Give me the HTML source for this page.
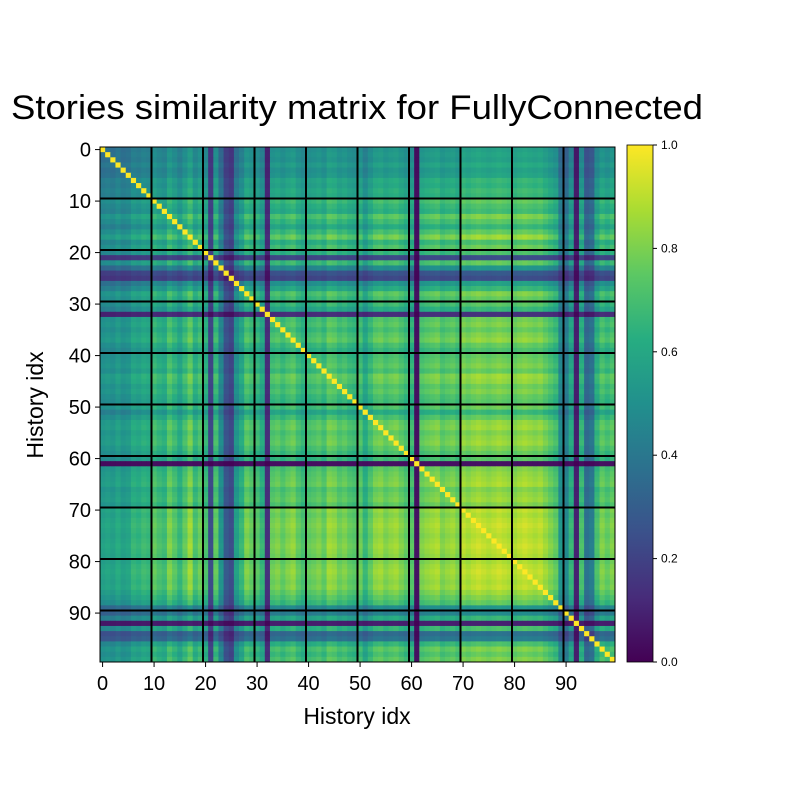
<!DOCTYPE html>
<html><head><meta charset="utf-8"><style>
body{margin:0;background:#fff;font-family:"Liberation Sans",sans-serif}
</style></head><body>
<svg width="800" height="800" xmlns="http://www.w3.org/2000/svg" font-family="Liberation Sans, sans-serif">
<rect width="800" height="800" fill="#fff"/>
<text x="357" y="119" font-size="34" text-anchor="middle" textLength="692" lengthAdjust="spacingAndGlyphs">Stories similarity matrix for FullyConnected</text>
<g id="heat"></g>
<g id="grid"></g>
<g id="axes"></g>
<text x="357" y="724" font-size="23" text-anchor="middle">History idx</text>
<text transform="translate(43,405) rotate(-90)" font-size="23" text-anchor="middle">History idx</text>
<defs><linearGradient id="cbg" x1="0" y1="1" x2="0" y2="0"></linearGradient></defs>
<rect x="627" y="145" width="26" height="517" fill="url(#cbg)" stroke="#000" stroke-width="0.8"/>
<g id="cbax"></g>
</svg>
<script>
const profile=[0.6,0.62,0.6,0.65,0.6,0.62,0.7,0.68,0.72,0.7,
0.8,0.75,0.72,0.85,0.78,0.7,0.8,0.9,0.75,0.82,
0.75,0.25,0.8,0.55,0.3,0.25,0.6,0.7,0.85,0.8,
0.78,0.7,0.15,0.82,0.85,0.8,0.85,0.88,0.8,0.75,
0.8,0.82,0.85,0.8,0.9,0.88,0.82,0.85,0.8,0.78,
0.82,0.7,0.8,0.88,0.9,0.85,0.88,0.9,0.85,0.8,
0.78,0.05,0.85,0.88,0.9,0.92,0.85,0.88,0.9,0.85,
0.95,0.92,0.95,0.97,0.95,0.93,0.95,0.97,0.95,0.93,
0.92,0.95,0.97,0.95,0.93,0.95,0.9,0.85,0.8,0.55,
0.5,0.7,0.1,0.75,0.4,0.45,0.75,0.85,0.8,0.85];
const xTicks=[0,10,20,30,40,50,60,70,80,90];
const cbTicks=[0,0.2,0.4,0.6,0.8,1.0];
const N=profile.length;
const X0=100,Y0=147,S=515;
const cell=S/N;
const sx=i=>X0+(i+0.5)*cell, sy=i=>Y0+(i+0.5)*cell;
const V=[[0,[68,1,84]],[0.125,[71,44,122]],[0.25,[59,81,139]],[0.375,[44,113,142]],[0.5,[33,144,141]],[0.625,[39,173,129]],[0.75,[92,200,99]],[0.875,[170,220,50]],[1,[253,231,37]]];
function vir(t){t=Math.max(0,Math.min(1,t));for(let k=1;k<V.length;k++){if(t<=V[k][0]){const a=V[k-1],b=V[k],f=(t-a[0])/(b[0]-a[0]);return 'rgb('+a[1].map((c,m)=>Math.round(c+(b[1][m]-c)*f)).join(',')+')';}}}
const ns='http://www.w3.org/2000/svg';
function mk(t,at,p){const e=document.createElementNS(ns,t);for(const k in at)e.setAttribute(k,at[k]);p.appendChild(e);return e;}
const heat=document.getElementById('heat');
for(let i=0;i<N;i++)for(let j=0;j<N;j++){
 const v=i===j?1:profile[i]*profile[j];
 const r=mk('rect',{x:(sx(j)-cell/2).toFixed(2),y:(sy(i)-cell/2).toFixed(2),width:(cell+0.4).toFixed(2),height:(cell+0.4).toFixed(2),fill:vir(v)},heat);
 
 
}
const grid=document.getElementById('grid');
for(let b=10;b<N;b+=10){
 const p=X0+b*cell,q=Y0+b*cell;
 const l1=mk('line',{x1:p,x2:p,y1:Y0,y2:Y0+S,stroke:'#000','stroke-width':2},grid);
 
 
 const l2=mk('line',{x1:X0,x2:X0+S,y1:q,y2:q,stroke:'#000','stroke-width':2},grid);
 
 
}
const ax=document.getElementById('axes');
mk('rect',{x:X0,y:Y0,width:S,height:S,fill:'none',stroke:'#000','stroke-width':1},ax);
xTicks.forEach(t=>{
 mk('line',{x1:sx(t),x2:sx(t),y1:Y0+S,y2:Y0+S+5,stroke:'#000'},ax);
 const tx=mk('text',{x:sx(t),y:Y0+S+28,'font-size':20,'text-anchor':'middle'},ax);tx.textContent=t;
 
 
 mk('line',{x1:X0-5,x2:X0,y1:sy(t),y2:sy(t),stroke:'#000'},ax);
 const ty=mk('text',{x:X0-9,y:sy(t)+7,'font-size':20,'text-anchor':'end'},ax);ty.textContent=t;
 
 
});
const g=document.getElementById('cbg');
V.forEach(s=>mk('stop',{offset:s[0],'stop-color':'rgb('+s[1].join(',')+')'},g));
const cb=document.getElementById('cbax');
cbTicks.forEach(t=>{
 const y=662-t*517;
 mk('line',{x1:653,x2:657,y1:y,y2:y,stroke:'#000'},cb);
 const tt=mk('text',{x:661,y:y+4,'font-size':12},cb);tt.textContent=t.toFixed(1);
 
 
});
</script>
</body></html>
